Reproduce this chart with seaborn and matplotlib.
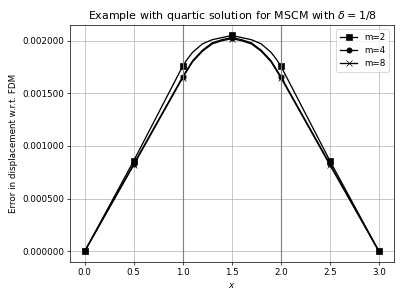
#libraries
import matplotlib
matplotlib.use("Agg")
import matplotlib.pyplot as plt
import seaborn as sns

# sample points along x (markers only at the nodes)
x = [0.0, 0.5, 1.0, 1.05, 1.1, 1.2, 1.3, 1.4, 1.5, 1.6, 1.7, 1.8, 1.9, 1.95, 2.0, 2.5, 3.0]
node_idx = [0, 1, 2, 8, 14, 15, 16]

err_m2 = [0.0, 0.00086, 0.00176, 0.00183, 0.00189, 0.00197, 0.00201, 0.00203, 0.00205,
          0.00203, 0.00201, 0.00197, 0.00189, 0.00183, 0.00176, 0.00086, 0.0]
err_m4 = [0.0, 0.00083, 0.00166, 0.001735, 0.00181, 0.00191, 0.00198, 0.00201, 0.00203,
          0.00201, 0.00198, 0.00191, 0.00181, 0.001735, 0.00166, 0.00083, 0.0]
err_m8 = [0.0, 0.00082, 0.00165, 0.001725, 0.00180, 0.00190, 0.00197, 0.00200, 0.00202,
          0.00200, 0.00197, 0.00190, 0.00180, 0.001725, 0.00165, 0.00082, 0.0]

labels = ["m=2", "m=4", "m=8"]
markers = ["s", "o", "x"]
element_bounds = [1.0, 2.0]

plt.figure(figsize=(403 / 63, 299 / 63), dpi=63)

for y, lab, mk in zip([err_m2, err_m4, err_m8], labels, markers):
    sns.lineplot(x=x, y=y, color="k", marker=mk, markevery=node_idx,
                 markersize=6, markeredgecolor="k", linewidth=1.5,
                 sort=False, label=lab)

for xb in element_bounds:
    plt.axvline(xb, color="#6d8494", linewidth=1.3)

plt.grid(True)
plt.gca().yaxis.set_major_formatter(matplotlib.ticker.FormatStrFormatter("%.6f"))
plt.title(r"Example with quartic solution for MSCM with $\delta = 1/8$", fontsize=12.5)
plt.xlabel("$x$")
plt.ylabel("Error in displacement w.r.t. FDM")
plt.legend(loc="upper right")

plt.tight_layout()
plt.savefig("out.png", dpi=63)
